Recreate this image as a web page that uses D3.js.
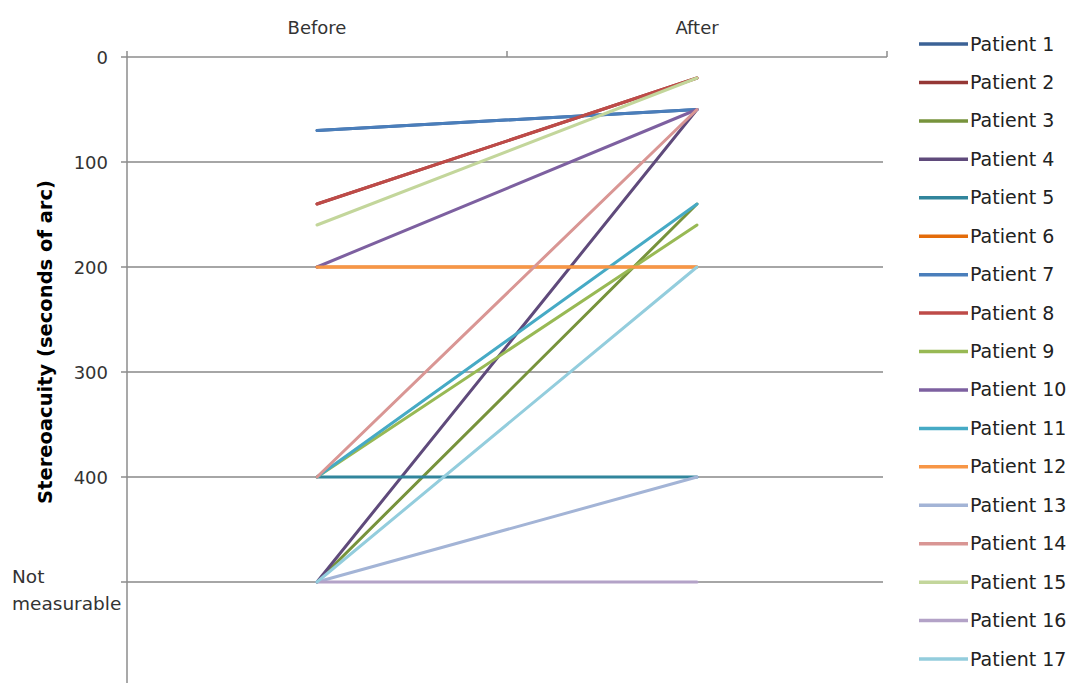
<!DOCTYPE html>
<html>
<head>
<meta charset="utf-8">
<script src="https://cdn.jsdelivr.net/npm/d3@7"></script>
<style>
  html, body { margin: 0; padding: 0; background: #fff; }
  svg { display: block; font-family: "DejaVu Sans", Verdana, sans-serif; }
</style>
</head>
<body>
<svg id="chart" width="1068" height="683"></svg>
<script>
// Stereoacuity before and after treatment, one line per patient.
// 500 stands for "Not measurable".
const phases = ["Before", "After"];
const patients = ["Patient 1", "Patient 2", "Patient 3", "Patient 4", "Patient 5", "Patient 6",
  "Patient 7", "Patient 8", "Patient 9", "Patient 10", "Patient 11", "Patient 12",
  "Patient 13", "Patient 14", "Patient 15", "Patient 16", "Patient 17"];
const beforeValues = [70, 140, 500, 500, 400, 200, 70, 140, 400, 200, 400, 200, 500, 400, 160, 500, 500];
const afterValues  = [50, 20, 140, 50, 400, 200, 50, 20, 160, 50, 140, 200, 400, 50, 20, 500, 200];
const colors = ["#3b6296", "#953735", "#77933c", "#5f4a7b", "#31859c", "#e46c0a",
  "#4a7ebb", "#be4b48", "#98b954", "#7d60a0", "#46aac5", "#f79646",
  "#a3b4d6", "#d99694", "#c3d69b", "#b3a2c7", "#93cddd"];
const yTicks = [0, 100, 200, 300, 400, 500];
const yTickLabels = ["0", "100", "200", "300", "400", "Not|measurable"];
const yTitle = "Stereoacuity (seconds of arc)";

const svg = d3.select("#chart");
const plot = { left: 127, right: 887, top: 57, bottom: 687 };

const x = d3.scaleBand().domain(phases).range([plot.left, plot.right]);
const y = d3.scaleLinear().domain([0, 600]).range([plot.top, plot.bottom]);

// horizontal gridlines
svg.append("g")
  .selectAll("line")
  .data(yTicks.filter(d => d > 0))
  .join("line")
  .attr("x1", plot.left).attr("x2", plot.right - 4)
  .attr("y1", d => y(d)).attr("y2", d => y(d))
  .attr("stroke", "#a6a6a6").attr("stroke-width", 2);

// category axis along the top (value axis is reversed)
const xAxisG = svg.append("g");
xAxisG.append("line")
  .attr("x1", plot.left).attr("x2", plot.right)
  .attr("y1", y(0)).attr("y2", y(0))
  .attr("stroke", "#8c8c8c").attr("stroke-width", 1.5);
xAxisG.selectAll("line.tick")
  .data([plot.left + x.bandwidth(), plot.right])
  .join("line").attr("class", "tick")
  .attr("x1", d => d).attr("x2", d => d)
  .attr("y1", y(0) - 6).attr("y2", y(0))
  .attr("stroke", "#8c8c8c").attr("stroke-width", 1.5);
xAxisG.selectAll("text")
  .data(phases)
  .join("text")
  .attr("x", d => x(d) + x.bandwidth() / 2)
  .attr("y", 34)
  .attr("text-anchor", "middle")
  .attr("font-size", 18)
  .attr("fill", "#333")
  .text(d => d);

// value axis
const yAxisG = svg.append("g");
yAxisG.append("line")
  .attr("x1", plot.left).attr("x2", plot.left)
  .attr("y1", y(0) - 6).attr("y2", 683)
  .attr("stroke", "#8c8c8c").attr("stroke-width", 1.5);
yAxisG.selectAll("line.tick")
  .data(yTicks)
  .join("line").attr("class", "tick")
  .attr("x1", plot.left - 6).attr("x2", plot.left)
  .attr("y1", d => y(d)).attr("y2", d => y(d))
  .attr("stroke", "#8c8c8c").attr("stroke-width", 1.5);
yTicks.forEach((t, i) => {
  const parts = yTickLabels[i].split("|");
  if (parts.length === 1) {
    yAxisG.append("text")
      .attr("x", 108).attr("y", y(t) + 6.5)
      .attr("text-anchor", "end")
      .attr("font-size", 18).attr("fill", "#333")
      .text(parts[0]);
  } else {
    yAxisG.append("text")
      .attr("x", 12).attr("y", y(t) + 1)
      .attr("font-size", 18.5).attr("fill", "#333")
      .text(parts[0]);
    yAxisG.append("text")
      .attr("x", 12).attr("y", y(t) + 28)
      .attr("font-size", 18.5).attr("fill", "#333")
      .text(parts[1]);
  }
});

svg.append("text")
  .attr("transform", `translate(52, 342) rotate(-90)`)
  .attr("text-anchor", "middle")
  .attr("font-size", 19.5)
  .attr("font-weight", "bold")
  .attr("fill", "#000")
  .text(yTitle);

// patient lines
const series = patients.map((name, i) => ({
  name,
  color: colors[i],
  points: [
    { phase: phases[0], value: beforeValues[i] },
    { phase: phases[1], value: afterValues[i] }
  ]
}));
const line = d3.line()
  .x(d => x(d.phase) + x.bandwidth() / 2)
  .y(d => y(d.value));

svg.append("g")
  .selectAll("path")
  .data(series)
  .join("path")
  .attr("d", d => line(d.points))
  .attr("fill", "none")
  .attr("stroke", d => d.color)
  .attr("stroke-width", 3)
  .attr("stroke-linecap", "round");

// legend
const legend = svg.append("g");
const rowY = d3.scalePoint().domain(patients).range([44, 659]);
const rows = legend.selectAll("g")
  .data(series)
  .join("g")
  .attr("transform", d => `translate(0, ${rowY(d.name)})`);
rows.append("line")
  .attr("x1", 919).attr("x2", 968)
  .attr("y1", 0).attr("y2", 0)
  .attr("stroke", d => d.color)
  .attr("stroke-width", 3.5);
rows.append("text")
  .attr("x", 970).attr("y", 6.5)
  .attr("font-size", 19)
  .attr("fill", "#222")
  .text(d => d.name);
</script>
</body>
</html>
